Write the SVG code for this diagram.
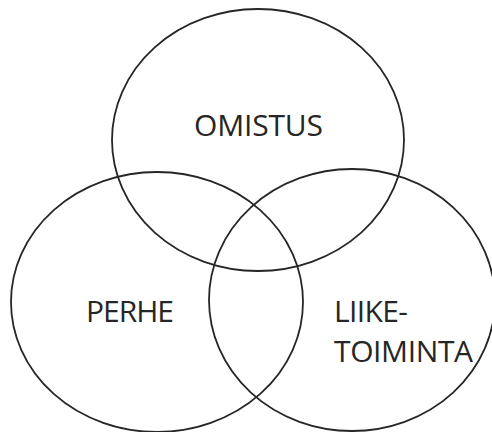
<svg xmlns="http://www.w3.org/2000/svg" width="492" height="432" viewBox="0 0 492 432">
<style>
.c{fill:none;stroke:#262626;stroke-width:1.8}
.t{font-family:"Open Sans","Liberation Sans",sans-serif;font-size:30px;fill:#262626}
</style>
<rect width="492" height="432" fill="#fff"/>
<g id="omistus"><ellipse class="c" cx="258" cy="140" rx="146" ry="131"/><text class="t" x="194" y="136" textLength="129">OMISTUS</text></g>
<g id="perhe"><ellipse class="c" cx="157" cy="302" rx="146" ry="130"/><text class="t" x="86" y="322" textLength="88">PERHE</text></g>
<g id="liiketoiminta"><ellipse class="c" cx="352" cy="300" rx="143" ry="131"/><text class="t" x="334" y="322" textLength="74">LIIKE-</text><text class="t" x="334" y="362" textLength="139">TOIMINTA</text></g>
</svg>
